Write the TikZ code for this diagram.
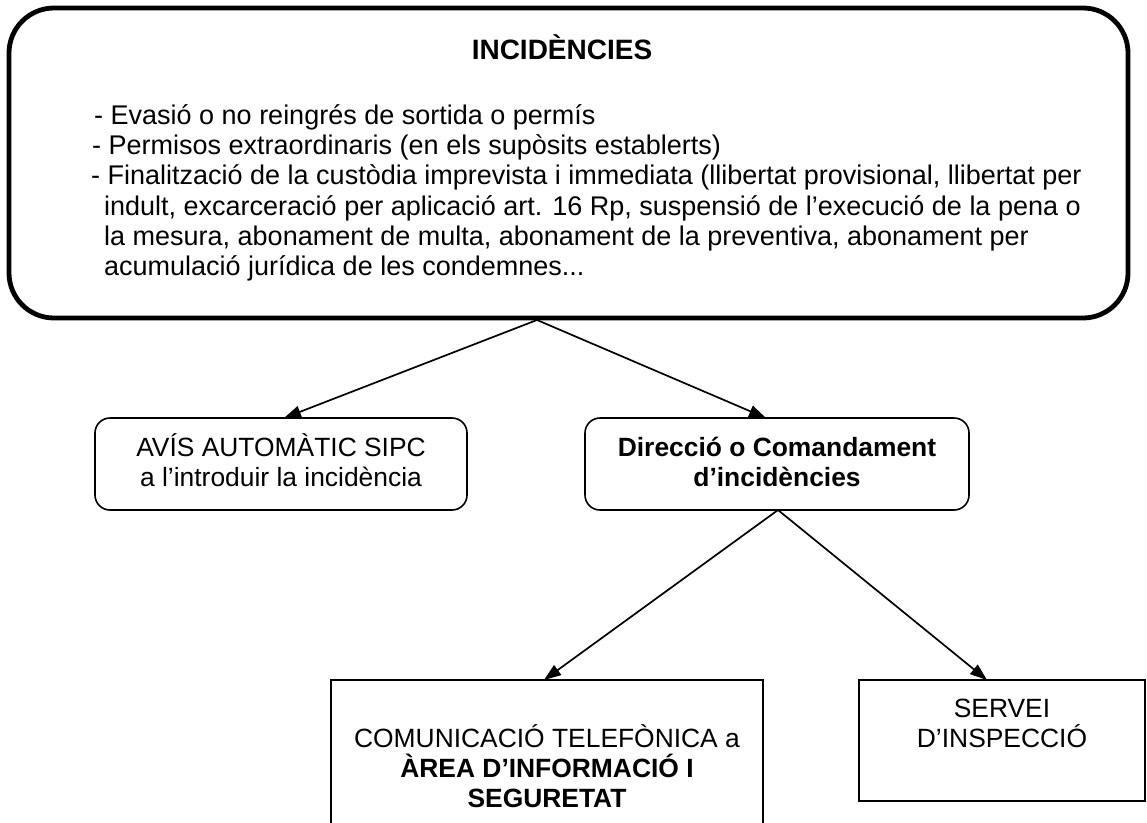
\documentclass[tikz,border=0pt]{standalone}
\usepackage{fontspec}
\setmainfont{Liberation Sans}
\usetikzlibrary{arrows.meta}
\begin{document}
\begin{tikzpicture}[x=1pt,y=-1pt,
  txt/.style={inner sep=0pt, font=\fontsize{26.4}{30.4}\selectfont},
  btxt/.style={txt, font=\bfseries\fontsize{26.4}{30.4}\selectfont},
  ltxt/.style={inner sep=0pt, anchor=base west, font=\fontsize{27}{31}\selectfont},
  rbox/.style={draw, line width=1.6pt, rounded corners=15pt, inner sep=0pt},
  sbox/.style={draw, line width=2pt, inner sep=0pt},
  arr/.style={-{Triangle[length=17pt,width=12pt]}, line width=1.7pt}]
\useasboundingbox (0,0) rectangle (1147,822);
% top box
\node[draw, line width=4.8pt, rounded corners=45pt, minimum width=1119pt, minimum height=310pt, inner sep=0pt] (top) at (568.5,163) {};
\node[txt, anchor=base, font=\bfseries\fontsize{28}{32}\selectfont] (title) at (562,59) {INCIDÈNCIES};
\node[ltxt] (l1) at (94,124) {- Evasió o no reingrés de sortida o permís};
\node[ltxt] (l2) at (92,154) {- Permisos extraordinaris (en els supòsits establerts)};
\node[ltxt] (l3) at (91,184) {- Finalització de la custòdia imprevista i immediata (llibertat provisional, llibertat per};
\node[ltxt] (l4) at (104,215) {indult, excarceració per aplicació art. 16 Rp, suspensió de l’execució de la pena o};
\node[ltxt] (l5) at (104,245) {la mesura, abonament de multa, abonament de la preventiva, abonament per};
\node[ltxt] (l6) at (104,275) {acumulació jurídica de les condemnes...};
% middle boxes
\node[rbox, minimum width=372pt, minimum height=92pt] (avis) at (281,464) {};
\node[txt, anchor=base] (avis1) at (avis.center |- 0,456) {AVÍS AUTOMÀTIC SIPC};
\node[txt, anchor=base] (avis2) at (avis.center |- 0,486) {a l’introduir la incidència};
\node[rbox, minimum width=384pt, minimum height=92pt] (dir) at (777,464) {};
\node[btxt, anchor=base] (dir1) at (dir.center |- 0,456) {Direcció o Comandament};
\node[btxt, anchor=base] (dir2) at (dir.center |- 0,486) {d’incidències};
% bottom boxes
\node[sbox, minimum width=432pt, minimum height=180pt] (com) at (547,770) {};
\node[txt, anchor=base] (com1) at (com.center |- 0,747) {COMUNICACIÓ TELEFÒNICA a};
\node[btxt, anchor=base] (com2) at (com.center |- 0,777) {ÀREA D’INFORMACIÓ I};
\node[btxt, anchor=base] (com3) at (com.center |- 0,807) {SEGURETAT};
\node[sbox, minimum width=286pt, minimum height=121pt] (serv) at (1002,740.5) {};
\node[txt, anchor=base] (serv1) at (serv.center |- 0,717) {SERVEI};
\node[txt, anchor=base] (serv2) at (serv.center |- 0,747) {D’INSPECCIÓ};
% connectors
\coordinate (topout) at (537,320);
\coordinate (avisin) at (284,418);
\coordinate (dirin) at (766,418);
\coordinate (dirout) at (778,510);
\coordinate (comin) at (544,680);
\coordinate (servin) at (987,680);
\draw[arr] (topout) -- (avisin);
\draw[arr] (topout) -- (dirin);
\draw[arr] (dirout) -- (comin);
\draw[arr] (dirout) -- (servin);
\end{tikzpicture}
\end{document}
